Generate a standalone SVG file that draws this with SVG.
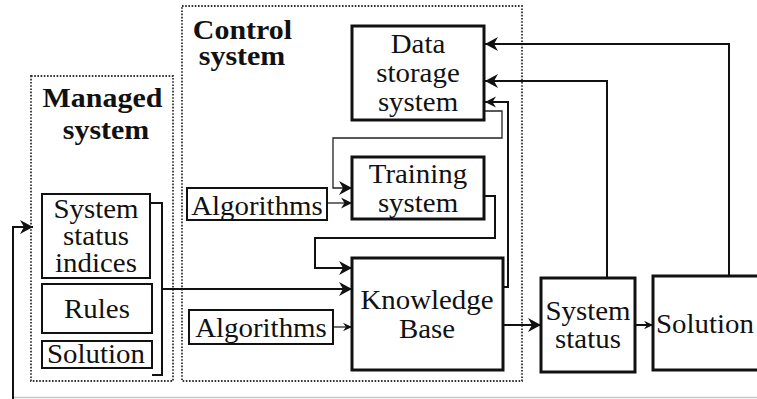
<svg xmlns="http://www.w3.org/2000/svg" width="757" height="399" viewBox="0 0 757 399">
  <style>
    .box { fill: #fff; stroke: #111; stroke-width: 3; }
    .grp { fill: none; stroke: #333; stroke-width: 1.8; stroke-dasharray: 1.6 1.6; }
    .t { font-family: "Liberation Serif", "Times New Roman", serif; font-size: 27px; fill: #111; text-anchor: middle; }
    .b { font-family: "Liberation Serif", "Times New Roman", serif; font-size: 28px; font-weight: bold; fill: #111; text-anchor: middle; }
    .w { fill: none; stroke: #111; stroke-width: 2; }
    .n { fill: none; stroke: #222; stroke-width: 1.3; }
  </style>
  <defs>
    <marker id="big" viewBox="0 0 14 16" refX="13" refY="8" markerWidth="14" markerHeight="16" orient="auto" markerUnits="userSpaceOnUse">
      <path d="M13,8 L0,1 L4,8 L0,15 Z" fill="#111"/>
    </marker>
    <marker id="mid" viewBox="0 0 12 12" refX="11" refY="6" markerWidth="12" markerHeight="12" orient="auto" markerUnits="userSpaceOnUse">
      <path d="M11,6 L0,0.5 L3.5,6 L0,11.5 Z" fill="#111"/>
    </marker>
    <marker id="small" viewBox="0 0 10 10" refX="9" refY="5" markerWidth="10" markerHeight="10" orient="auto" markerUnits="userSpaceOnUse">
      <path d="M9,5 L0,0.8 L3,5 L0,9.2 Z" fill="#111"/>
    </marker>
  </defs>

  <!-- group frames -->
  <g id="managed-system">
    <rect class="grp" x="31" y="76" width="142" height="305"/>
    <text class="b" transform="translate(102.5 107) scale(1.07 1)">Managed</text>
    <text class="b" transform="translate(106 139) scale(1.07 1)">system</text>
  </g>
  <g id="control-system">
    <rect class="grp" x="182" y="6" width="340" height="375"/>
    <text class="b" transform="translate(242.5 39) scale(1.07 1)">Control</text>
    <text class="b" transform="translate(242 65) scale(1.07 1)">system</text>
  </g>

  <!-- connectors -->
  <g id="connectors">
    <!-- feedback to managed system (runs along the bottom edge) -->
    <line x1="13" y1="397.5" x2="757" y2="397.5" stroke="#c8c8c8" stroke-width="1.5"/>
    <polyline class="w" points="13,399 13,227 33,227" marker-end="url(#big)"/>
    <!-- managed system bracket into knowledge base -->
    <polyline class="w" points="150,203 162,203 162,375 152,375"/>
    <line class="w" x1="162" y1="289" x2="352" y2="289" marker-end="url(#big)"/>
    <!-- algorithms -->
    <line class="n" x1="327" y1="203" x2="352" y2="203" marker-end="url(#mid)"/>
    <line class="n" x1="333" y1="327" x2="352" y2="327" marker-end="url(#small)"/>
    <!-- data storage to training -->
    <polyline class="n" points="484,111 502,111 502,138 333,138 333,188 352,188" marker-end="url(#big)"/>
    <!-- training to knowledge base -->
    <polyline class="w" points="484,196 495,196 495,238 315,238 315,268 352,268" marker-end="url(#big)"/>
    <!-- knowledge base to data storage -->
    <polyline class="w" points="503,287 508,287 508,102 485,102" marker-end="url(#mid)"/>
    <!-- knowledge base to system status -->
    <line class="w" x1="503" y1="325" x2="541" y2="325" marker-end="url(#big)"/>
    <!-- system status to solution -->
    <line class="w" x1="635" y1="325" x2="653" y2="325" marker-end="url(#small)"/>
    <!-- back to data storage -->
    <polyline class="w" points="607,278 607,81 485,81" marker-end="url(#big)"/>
    <polyline class="w" points="729,276 729,44 485,44" marker-end="url(#big)"/>
  </g>

  <!-- nodes -->
  <g id="data-storage">
    <rect class="box" x="352" y="26" width="132" height="94"/>
    <text class="t" transform="translate(418 53) scale(1.07 1)">Data</text>
    <text class="t" transform="translate(418 82) scale(1.07 1)">storage</text>
    <text class="t" transform="translate(418 111) scale(1.07 1)">system</text>
  </g>
  <g id="training-system">
    <rect class="box" x="352" y="157" width="132" height="62"/>
    <text class="t" transform="translate(418 183) scale(1.07 1)">Training</text>
    <text class="t" transform="translate(418 212) scale(1.07 1)">system</text>
  </g>
  <g id="algorithms-1">
    <rect class="box" style="stroke-width:2" x="187" y="188" width="140" height="32"/>
    <text class="t" transform="translate(257 215) scale(1.07 1)">Algorithms</text>
  </g>
  <g id="knowledge-base">
    <rect class="box" x="352" y="258" width="151" height="112"/>
    <text class="t" transform="translate(427 309) scale(1.07 1)">Knowledge</text>
    <text class="t" transform="translate(427 338) scale(1.07 1)">Base</text>
  </g>
  <g id="algorithms-2">
    <rect class="box" style="stroke-width:2" x="189" y="310" width="144" height="34"/>
    <text class="t" transform="translate(261 337) scale(1.07 1)">Algorithms</text>
  </g>
  <g id="status-indices">
    <rect class="box" style="stroke-width:2" x="42" y="194" width="108" height="84"/>
    <text class="t" transform="translate(96 218) scale(1.07 1)">System</text>
    <text class="t" transform="translate(96 245) scale(1.07 1)">status</text>
    <text class="t" transform="translate(96 272) scale(1.07 1)">indices</text>
  </g>
  <g id="rules">
    <rect class="box" style="stroke-width:2" x="42" y="284" width="110" height="49"/>
    <text class="t" transform="translate(97 318) scale(1.07 1)">Rules</text>
  </g>
  <g id="managed-solution">
    <rect class="box" style="stroke-width:2" x="42" y="341" width="110" height="27"/>
    <text class="t" transform="translate(96 363) scale(1.07 1)">Solution</text>
  </g>
  <g id="system-status">
    <rect class="box" x="541" y="278" width="94" height="94"/>
    <text class="t" transform="translate(588 320) scale(1.07 1)">System</text>
    <text class="t" transform="translate(588 348) scale(1.07 1)">status</text>
  </g>
  <g id="solution">
    <rect class="box" x="653" y="276" width="120" height="94"/>
    <text class="t" style="text-anchor:start" transform="translate(656 333) scale(1.07 1)">Solution</text>
  </g>
</svg>
